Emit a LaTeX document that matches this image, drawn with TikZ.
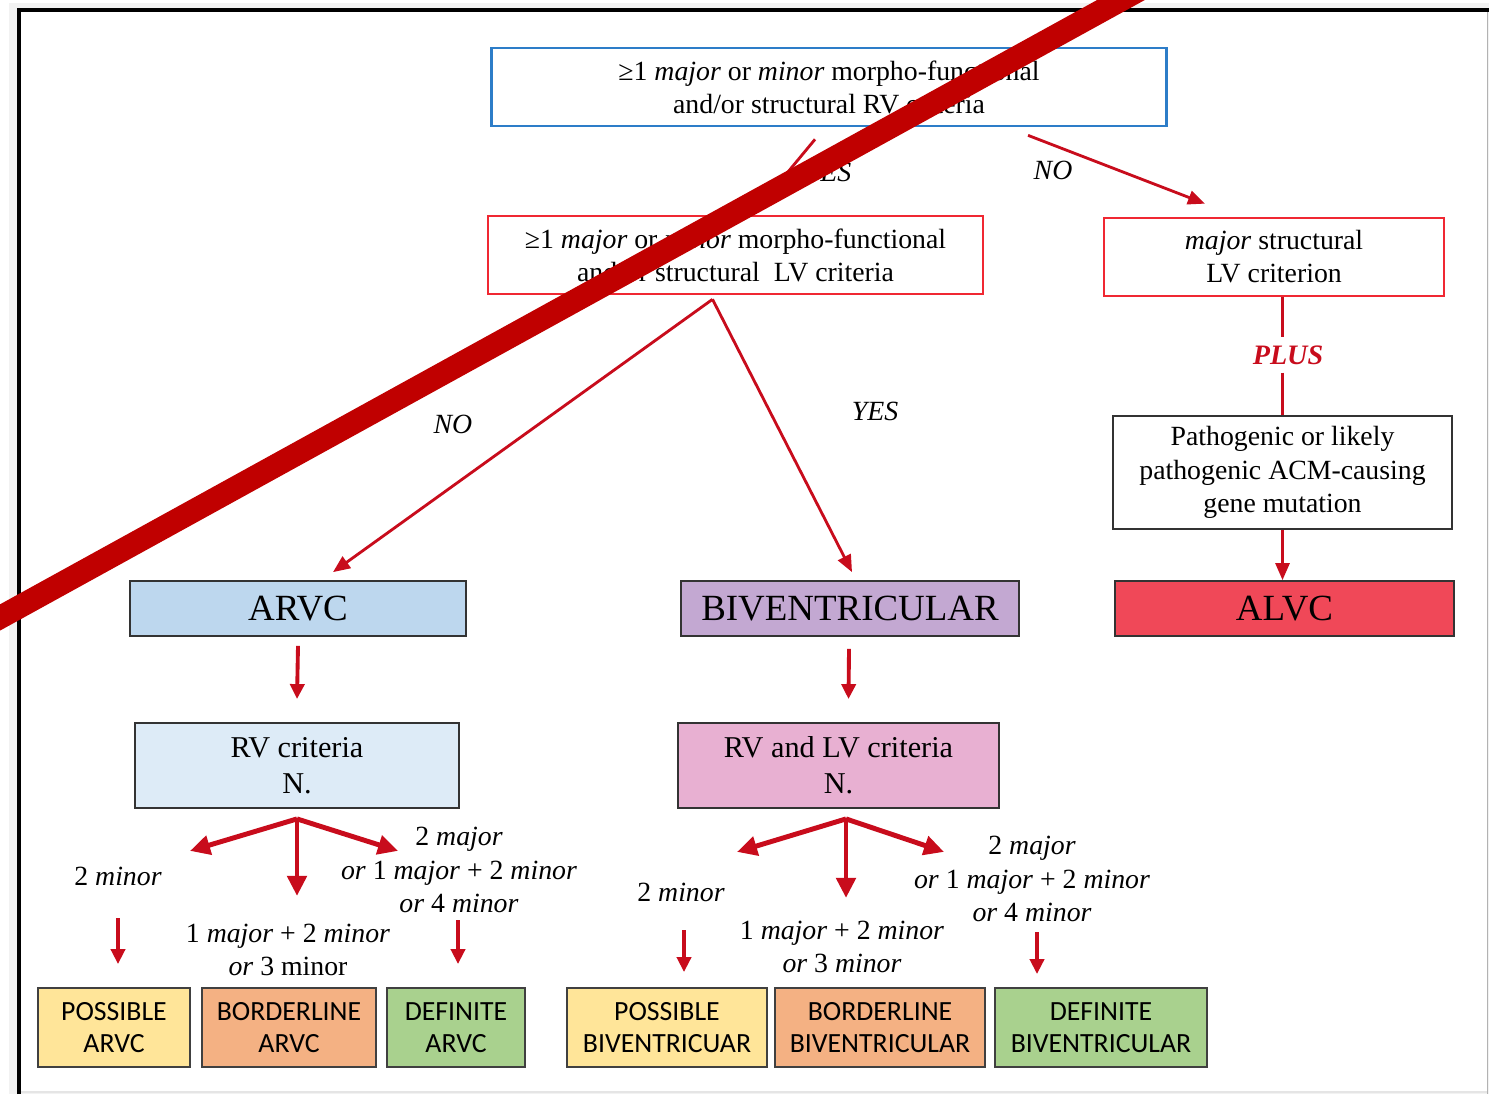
\documentclass[tikz,border=0pt]{standalone}
\usepackage{fontspec}
\setmainfont{LiberationSerif}[Extension=.ttf, UprightFont=*-Regular, BoldFont=*-Bold, ItalicFont=*-Italic, BoldItalicFont=*-BoldItalic]
\newfontfamily\calfont{Carlito}
\usetikzlibrary{arrows.meta, positioning, calc}

\definecolor{arrowred}{RGB}{200,12,28}
\definecolor{bandred}{RGB}{192,0,0}
\definecolor{frameblue}{RGB}{45,125,200}
\definecolor{framered}{RGB}{240,40,50}
\definecolor{alvcred}{RGB}{240,72,88}
\definecolor{arvcblue}{RGB}{189,215,238}
\definecolor{rvblue}{RGB}{221,235,247}
\definecolor{bivpurple}{RGB}{195,168,210}
\definecolor{bivpink}{RGB}{232,176,210}
\definecolor{possyellow}{RGB}{255,229,153}
\definecolor{bordorange}{RGB}{244,177,131}
\definecolor{defgreen}{RGB}{169,209,142}

\tikzset{
  critbox/.style={draw, inner sep=0pt, align=center, font=\fontsize{7.9}{9.4}\selectfont},
  headbox/.style={draw=black!80, line width=0.5pt, inner sep=0pt, minimum height=0.55cm, font=\fontsize{10.5}{12}\selectfont},
  countbox/.style={draw=black!80, line width=0.5pt, inner sep=0pt, align=center, minimum height=0.85cm, font=\fontsize{8.6}{10.2}\selectfont},
  gradebox/.style={draw=black!75, line width=0.5pt, inner sep=0pt, align=center, minimum height=0.79cm, font=\calfont\fontsize{7.9}{9.1}\selectfont},
  lbl/.style={inner sep=0pt, align=center, font=\fontsize{7.9}{9.5}\selectfont},
  arr/.style={arrowred, line width=0.8pt, -{Triangle[length=0.17cm, width=0.14cm]}},
  fanarr/.style={arrowred, line width=1.4pt, -{Triangle[length=0.2cm, width=0.19cm]}},
  downarr/.style={arrowred, line width=1.1pt, -{Triangle[length=0.15cm, width=0.14cm]}},
}

\begin{document}
\begin{tikzpicture}[x=0.01cm, y=-0.01cm]
\useasboundingbox (0,0) rectangle (1489,1094);

% page frame
\fill[gray!10] (9,3) rectangle (1489,1094);
\fill[white] (19,10) rectangle (1487,1092);
\draw[gray!60, line width=0.3pt] (1487,10) -- (1487,1094);
\draw[gray!20, line width=0.3pt] (19,1092) -- (1487,1092);
\draw[line width=0.9pt] (19,1094) -- (19,10) -- (1489,10);

% criteria boxes
\node[critbox, draw=frameblue, line width=0.75pt, minimum width=6.74cm, minimum height=0.78cm] (rvq) at (829,87)
  {≥1 \textit{major} or \textit{minor} morpho-functional\\and/or structural RV criteria};
\node[critbox, draw=framered, line width=0.75pt, minimum width=4.95cm, minimum height=0.78cm] (lvq) at (735.5,255)
  {≥1 \textit{major} or \textit{minor} morpho-functional\\and/or structural\ \ LV criteria};
\node[critbox, draw=framered, line width=0.75pt, minimum width=3.40cm, minimum height=0.78cm] (majq) at (1274,257)
  {\textit{major} structural\\LV criterion};
\node[critbox, draw=black!80, line width=0.5pt, minimum width=3.39cm, minimum height=1.13cm, font=\fontsize{7.9}{9.6}\selectfont] (gene) at (1282.5,472.5)
  {Pathogenic or likely\\pathogenic ACM-causing\\gene mutation};

% phenotypes
\node[headbox, fill=arvcblue, minimum width=3.36cm] (arvc) at (298,608.5) {ARVC};
\node[headbox, fill=bivpurple, minimum width=3.38cm] (biv) at (850,608.5) {BIVENTRICULAR};
\node[headbox, fill=alvcred, minimum width=3.39cm] (alvc) at (1284.5,608.5) {ALVC};

\node[countbox, fill=rvblue, minimum width=3.24cm] (rvn) at (297,765.5) {RV criteria\\N.};
\node[countbox, fill=bivpink, minimum width=3.21cm] (rvlvn) at (838.5,765.5) {RV and LV criteria\\N.};

% grades
\node[gradebox, fill=possyellow, minimum width=1.52cm] (possA) at (114,1027.5) {POSSIBLE\\ARVC};
\node[gradebox, fill=bordorange, minimum width=1.74cm] (bordA) at (289,1027.5) {BORDERLINE\\ARVC};
\node[gradebox, fill=defgreen, minimum width=1.38cm] (defA) at (456,1027.5) {DEFINITE\\ARVC};
\node[gradebox, fill=possyellow, minimum width=2.00cm] (possB) at (667,1027.5) {POSSIBLE\\BIVENTRICUAR};
\node[gradebox, fill=bordorange, minimum width=2.10cm] (bordB) at (880,1027.5) {BORDERLINE\\BIVENTRICULAR};
\node[gradebox, fill=defgreen, minimum width=2.12cm] (defB) at (1101,1027.5) {DEFINITE\\BIVENTRICULAR};

% labels
\node[lbl] (yesA) at (828,172) {\textit{YES}};
\node[lbl] (noA) at (1053,170) {\textit{NO}};
\node[lbl] (noB) at (453,424) {\textit{NO}};
\node[lbl] (yesB) at (875,411) {\textit{YES}};
\node[lbl, minimum height=0.34cm, text=arrowred, font=\bfseries\itshape\fontsize{8}{9.5}\selectfont] (plus) at (1288,355) {PLUS};

\node[lbl] (minA) at (118,876) {2 \textit{minor}};
\node[lbl] (midA) at (288,950) {1 \textit{major} + 2 \textit{minor}\\\textit{or} 3 minor};
\node[lbl] (majA) at (459,870) {2 \textit{major}\\\textit{or} 1 \textit{major} + 2 \textit{minor}\\\textit{or} 4 \textit{minor}};
\node[lbl] (minB) at (681,892) {2 \textit{minor}};
\node[lbl] (midB) at (842,947) {1 \textit{major} + 2 \textit{minor}\\\textit{or} 3 \textit{minor}};
\node[lbl] (majB) at (1032,879) {2 \textit{major}\\\textit{or} 1 \textit{major} + 2 \textit{minor}\\\textit{or} 4 \textit{minor}};

% connectors
\draw[arr] ($(rvq.south)+(-14,12)$) -- ($(lvq.north)+(22,-6)$);
\draw[arr] ($(rvq.south)+(199,8)$) -- ($(majq.north)+(-69,-13)$);
\draw[arr] ($(lvq.south)+(-23,4)$) -- ($(arvc.north)+(35,-8)$);
\draw[arr] ($(lvq.south)+(-23,4)$) -- ($(biv.north)+(2,-8)$);
\draw[arrowred, line width=0.8pt] (majq.south -| gene.north) -- (plus.north -| gene.north);
\draw[arrowred, line width=0.8pt] (plus.south -| gene.north) -- (gene.north);
\draw[arr] (gene.south) -- (gene.south |- alvc.north);

\draw[downarr] ($(arvc.south)+(0,9)$) -- ($(rvn.north)+(0,-23)$);
\draw[downarr] ($(biv.south)+(-1,12)$) -- ($(rvlvn.north)+(10,-23)$);

\coordinate (fanA) at ($(rvn.south)+(0,10)$);
\draw[fanarr] (fanA) -- ++(-107,32);
\draw[fanarr] (fanA) -- ++(0,77);
\draw[fanarr] (fanA) -- ++(101,32);
\coordinate (fanB) at ($(rvlvn.south)+(7.5,10)$);
\draw[fanarr] (fanB) -- ++(-109,33);
\draw[fanarr] (fanB) -- ++(0,79);
\draw[fanarr] (fanB) -- ++(98,33);

\draw[downarr] ($(minA.center)+(0,42)$) -- ($(possA.north -| minA.center)+(0,-23)$);
\draw[downarr] ($(majA.center)+(-1,50)$) -- ($(defA.north -| majA.center)+(-1,-23)$);
\draw[downarr] ($(minB.center)+(3,38)$) -- ($(possB.north -| minB.center)+(3,-15)$);
\draw[downarr] ($(majB.center)+(5,53)$) -- ($(defB.north -| majB.center)+(5,-13)$);

% strike-through band
\begin{scope}
\clip (0,0) rectangle (1489,1094);
\draw[bandred, line width=0.23cm] (-30,634) -- (1150,-16);
\end{scope}
\end{tikzpicture}
\end{document}
